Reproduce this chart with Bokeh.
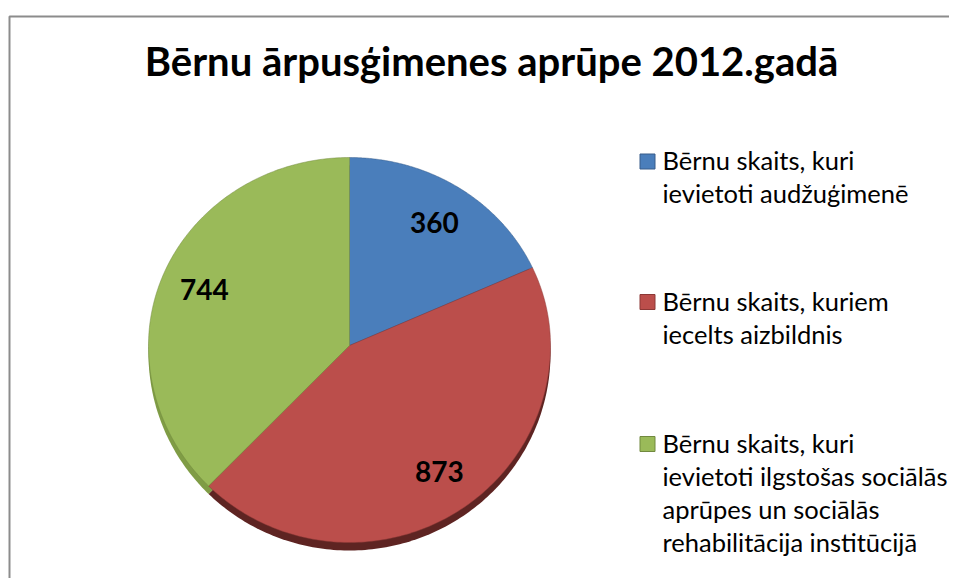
import numpy as np
from bokeh.plotting import figure
from bokeh.models import Range1d, ColumnDataSource
from bokeh.core.properties import value
from bokeh.embed import file_html
from bokeh.resources import INLINE

# ---- data ----
title_text = "Bērnu ārpusģimenes aprūpe 2012.gadā"
categories = [
    "Bērnu skaits, kuri\nievietoti audžuģimenē",
    "Bērnu skaits, kuriem\niecelts aizbildnis",
    "Bērnu skaits, kuri\nievietoti ilgstošas sociālās\naprūpes un sociālās\nrehabilitācija institūcijā",
]
values = [360, 873, 744]
colors = ["#4A7EBB", "#BB4E4B", "#9ABA59"]
side_colors = ["#2f5180", "#5e2422", "#7f9c45"]
border_colors = ["#385D8A", "#8C3836", "#71893F"]

# ---- layout (pixel space of page) ----
W, H = 949, 578
cx, cy = 349.0, 345.0
rx, ry_top, ry_bot = 201.0, 188.0, 197.0
depth = 8.0
label_frac = 0.78

p = figure(width=W, height=H, x_range=Range1d(0, W), y_range=Range1d(H, 0),
           output_backend="svg", toolbar_location=None, min_border=0,
           x_axis_type=None, y_axis_type=None)
p.grid.visible = False
p.outline_line_color = None
p.background_fill_color = "white"
p.border_fill_color = "white"

# chart border (left and top edges visible)
p.line(x=[9, 9, W], y=[H, 16, 16], line_color="#8c8c8c", line_width=2)

# ---- pie geometry from values ----
vals = np.array(values, dtype=float)
frac = vals / vals.sum()
ends = np.cumsum(frac) * 2 * np.pi
starts = ends - frac * 2 * np.pi

def ell_y(t, dy=0.0):
    c = np.cos(t)
    r = np.where(c >= 0, ry_top, ry_bot)
    return cy + dy - r * c

def wedge_pts(t0, t1, dy=0.0):
    t = np.linspace(t0, t1, 160)
    xs = np.concatenate([[cx], cx + rx * np.sin(t), [cx]])
    ys = np.concatenate([[cy + dy], ell_y(t, dy), [cy + dy]])
    return list(xs), list(ys)

side_x, side_y, top_x, top_y = [], [], [], []
for t0, t1 in zip(starts, ends):
    sx, sy = wedge_pts(t0, t1, depth)
    side_x.append(sx); side_y.append(sy)
    tx, ty = wedge_pts(t0, t1)
    top_x.append(tx); top_y.append(ty)

p.patches(xs=side_x, ys=side_y, fill_color=side_colors, line_color=None)
p.patches(xs=top_x, ys=top_y, fill_color=colors, line_color=border_colors,
          line_width=0.8, line_alpha=0.6)

# data labels
mid = (starts + ends) / 2
lab_src = ColumnDataSource(dict(
    x=cx + rx * label_frac * np.sin(mid),
    y=cy + (ell_y(mid) - cy) * label_frac,
    t=[str(v) for v in values]))
p.text(x="x", y="y", text="t", source=lab_src, text_font=value("Lato"),
       text_font_style="bold", text_font_size="28px", text_color="black",
       text_align="center", text_baseline="middle")

# title (baseline ~75px; middle anchor ~0.36em above baseline)
p.text(x=[491], y=[75 - 0.36 * 40], text=[title_text], text_font=value("Lato"),
       text_font_style="bold", text_font_size="40px", text_color="black",
       text_align="center", text_baseline="middle")

# legend (custom)
leg_y = [161, 301.5, 443.5]
fs = 25.5
p.rect(x=[647] * 3, y=leg_y, width=15, height=15, fill_color=colors,
       line_color=border_colors, line_width=1)
lx, ly, lt = [], [], []
for yc, lab in zip(leg_y, categories):
    for i, line in enumerate(lab.split("\n")):
        lx.append(662)
        ly.append(yc + 8 + 33 * i - 0.36 * fs)
        lt.append(line)
p.text(x=lx, y=ly, text=lt, text_font=value("Lato"), text_font_size=f"{fs}px",
       text_color="black", text_align="left", text_baseline="middle")

open("out.html", "w").write(file_html(p, INLINE))
